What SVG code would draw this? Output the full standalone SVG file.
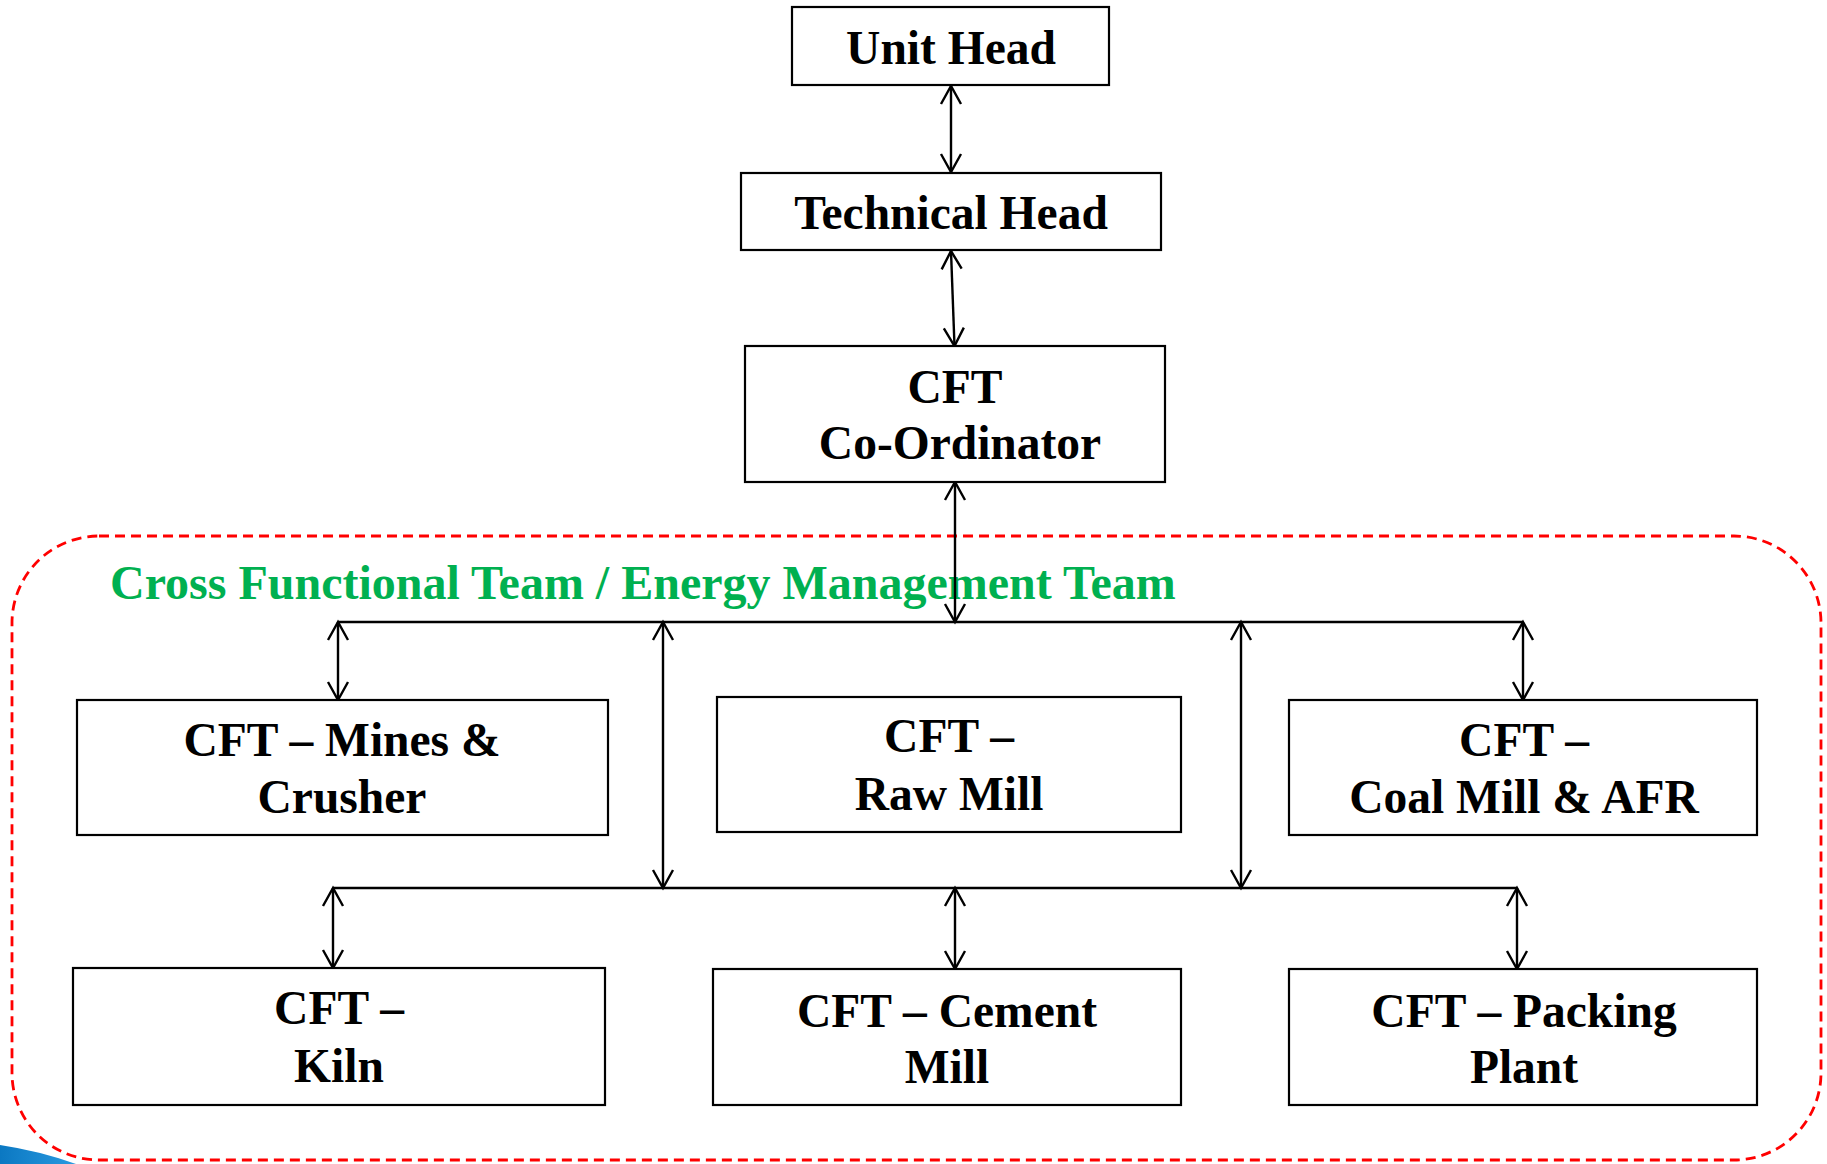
<svg xmlns="http://www.w3.org/2000/svg" width="1827" height="1164" viewBox="0 0 1827 1164">
<style>
.box{fill:#fff;stroke:#000;stroke-width:2.2}
.lbl{font-family:"Liberation Serif","Times New Roman",serif;font-weight:bold;font-size:47.5px;fill:#000;text-anchor:middle}
.title{font-family:"Liberation Serif","Times New Roman",serif;font-weight:bold;font-size:48px;fill:#00B050}
.ln{stroke:#000;stroke-width:2.4;fill:none}
.ar{marker-start:url(#ah);marker-end:url(#ah)}
</style>
<defs>
<marker id="ah" viewBox="-22 -14 26 28" markerWidth="26" markerHeight="28" refX="0" refY="0" orient="auto-start-reverse" markerUnits="userSpaceOnUse">
<path d="M-18,-10 L0,0 L-18,10" fill="none" stroke="#000" stroke-width="2.4"/>
</marker>
<linearGradient id="bl" x1="0" y1="0" x2="1" y2="0">
<stop offset="0" stop-color="#0b78c2"/>
<stop offset="1" stop-color="#2a9ae0"/>
</linearGradient>
</defs>
<rect width="1827" height="1164" fill="#fff"/>
<path d="M0,1145 Q40,1151 76,1164 L0,1164 Z" fill="url(#bl)"/>
<rect id="cft-team" x="12" y="536" width="1809" height="624" rx="87" ry="87" fill="none" stroke="#FF0000" stroke-width="2.8" stroke-dasharray="10,6"/>
<text class="title" x="110" y="599">Cross Functional Team / Energy Management Team</text>
<g id="connectors">
<line class="ln ar" x1="951" y1="86" x2="951" y2="172"/>
<line class="ln ar" x1="951" y1="251" x2="954.5" y2="346"/>
<line class="ln ar" x1="955" y1="482" x2="955" y2="622"/>
<line class="ln" x1="338" y1="622" x2="1523" y2="622"/>
<line class="ln ar" x1="338" y1="622" x2="338" y2="700"/>
<line class="ln ar" x1="1523" y1="622" x2="1523" y2="700"/>
<line class="ln ar" x1="663" y1="622" x2="663" y2="888"/>
<line class="ln ar" x1="1241" y1="622" x2="1241" y2="888"/>
<line class="ln" x1="333" y1="888" x2="1517" y2="888"/>
<line class="ln ar" x1="333" y1="888" x2="333" y2="968"/>
<line class="ln ar" x1="955" y1="888" x2="955" y2="969"/>
<line class="ln ar" x1="1517" y1="888" x2="1517" y2="969"/>
</g>
<g id="unit-head"><rect class="box" x="792" y="7" width="317" height="78"/><text class="lbl" x="951" y="64">Unit Head</text></g>
<g id="technical-head"><rect class="box" x="741" y="173" width="420" height="77"/><text class="lbl" x="951" y="229">Technical Head</text></g>
<g id="cft-coordinator"><rect class="box" x="745" y="346" width="420" height="136"/><text class="lbl" x="955" y="403">CFT</text><text class="lbl" x="960" y="459">Co-Ordinator</text></g>
<g id="cft-mines"><rect class="box" x="77" y="700" width="531" height="135"/><text class="lbl" x="342" y="756">CFT – Mines &amp;</text><text class="lbl" x="342" y="813">Crusher</text></g>
<g id="cft-rawmill"><rect class="box" x="717" y="697" width="464" height="135"/><text class="lbl" x="949" y="752">CFT –</text><text class="lbl" x="949" y="810">Raw Mill</text></g>
<g id="cft-coalmill"><rect class="box" x="1289" y="700" width="468" height="135"/><text class="lbl" x="1524" y="756">CFT –</text><text class="lbl" x="1524" y="813">Coal Mill &amp; AFR</text></g>
<g id="cft-kiln"><rect class="box" x="73" y="968" width="532" height="137"/><text class="lbl" x="339" y="1024">CFT –</text><text class="lbl" x="339" y="1082">Kiln</text></g>
<g id="cft-cement"><rect class="box" x="713" y="969" width="468" height="136"/><text class="lbl" x="947" y="1027">CFT – Cement</text><text class="lbl" x="947" y="1083">Mill</text></g>
<g id="cft-packing"><rect class="box" x="1289" y="969" width="468" height="136"/><text class="lbl" x="1524" y="1027">CFT – Packing</text><text class="lbl" x="1524" y="1083">Plant</text></g>
</svg>
